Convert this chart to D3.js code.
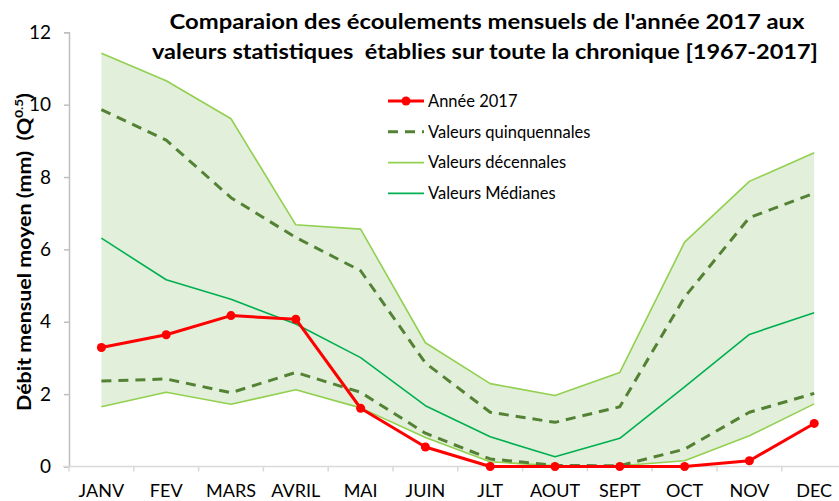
<!DOCTYPE html>
<html>
<head>
<meta charset="utf-8">
<script src="https://cdnjs.cloudflare.com/ajax/libs/d3/7.8.5/d3.min.js"></script>
<style>
  body { margin: 0; background: #fff; }
  svg { font-family: Lato, "Open Sans", sans-serif; }
</style>
</head>
<body>
<div id="chart"></div>
<script>
// months and series
var months = ['JANV', 'FEV', 'MARS', 'AVRIL', 'MAI', 'JUIN', 'JLT', 'AOUT', 'SEPT', 'OCT', 'NOV', 'DEC'];
var annee2017 = [3.29, 3.64, 4.17, 4.07, 1.61, 0.54, 0, 0, 0, 0, 0.16, 1.19];
var quinqHaut = [9.86, 9.02, 7.43, 6.33, 5.41, 2.86, 1.50, 1.22, 1.65, 4.68, 6.88, 7.55];
var quinqBas = [2.36, 2.42, 2.04, 2.60, 2.05, 0.92, 0.21, 0.03, 0.02, 0.48, 1.50, 2.02];
var decHaut = [11.42, 10.66, 9.61, 6.68, 6.56, 3.42, 2.29, 1.96, 2.60, 6.20, 7.88, 8.67];
var decBas = [1.65, 2.05, 1.72, 2.12, 1.62, 0.80, 0.13, 0.02, 0.02, 0.16, 0.85, 1.73];
var medianes = [6.31, 5.16, 4.62, 3.94, 3.01, 1.68, 0.82, 0.27, 0.78, 2.20, 3.65, 4.25];
var yTicks = [0, 2, 4, 6, 8, 10, 12];

var width = 839,
    height = 501;

var svg = d3.select("#chart").append("svg")
    .attr("width", width)
    .attr("height", height);

var x = d3.scaleBand()
    .domain(months)
    .range([69, 846.6]);

var y = d3.scaleLinear()
    .domain([0, 12])
    .range([466.5, 32.3]);

function cx(d, i) { return x(months[i]) + x.bandwidth() / 2; }

// axes
var yAxis = svg.append("g")
    .attr("transform", "translate(69,0)")
    .call(d3.axisLeft(y).tickValues(yTicks).tickSize(5).tickPadding(13));
yAxis.select(".domain").attr("stroke", "#bfbfbf").attr("stroke-width", 1.5);
yAxis.selectAll(".tick line").attr("stroke", "#bfbfbf").attr("stroke-width", 1.5);
yAxis.selectAll("text").attr("font-size", "19px").attr("fill", "#000")
    .style("font-family", "Lato, 'Open Sans', sans-serif");

var xAxis = svg.append("g")
    .attr("transform", "translate(0,466.5)")
    .call(d3.axisBottom(x).tickSize(0).tickPadding(18));
xAxis.select(".domain").remove();
xAxis.selectAll("text").attr("font-size", "18px").attr("fill", "#000")
    .style("font-family", "Lato, 'Open Sans', sans-serif");

svg.append("line")
    .attr("x1", 63).attr("x2", 846.6)
    .attr("y1", y(0)).attr("y2", y(0))
    .attr("stroke", "#d9d9d9").attr("stroke-width", 1.5);

svg.selectAll(".xtick")
    .data(d3.range(months.length + 1))
    .enter().append("line")
    .attr("class", "xtick")
    .attr("x1", function(d) { return 69 + d * x.step(); })
    .attr("x2", function(d) { return 69 + d * x.step(); })
    .attr("y1", y(0)).attr("y2", y(0) + 5)
    .attr("stroke", "#d9d9d9").attr("stroke-width", 1.5);

// shaded band between the decennial values
var area = d3.area()
    .x(cx)
    .y0(function(d, i) { return y(decBas[i]); })
    .y1(function(d) { return y(d); });

svg.append("path")
    .datum(decHaut)
    .attr("d", area)
    .attr("fill", "#e2efda");

var line = d3.line().x(cx).y(function(d) { return y(d); });

function drawLine(data, color, w, dash) {
  svg.append("path")
    .datum(data)
    .attr("d", line)
    .attr("fill", "none")
    .attr("stroke", color)
    .attr("stroke-width", w)
    .attr("stroke-dasharray", dash || null)
    .attr("stroke-linejoin", "round");
}

drawLine(decHaut, "#92d050", 1.6);
drawLine(decBas, "#92d050", 1.6);
drawLine(medianes, "#00b050", 1.6);
drawLine(quinqHaut, "#548235", 3, "10,7");
drawLine(quinqBas, "#548235", 3, "10,7");
drawLine(annee2017, "#ff0000", 3);

svg.selectAll(".pt")
    .data(annee2017)
    .enter().append("circle")
    .attr("class", "pt")
    .attr("cx", cx)
    .attr("cy", function(d) { return y(d); })
    .attr("r", 4.5)
    .attr("fill", "#ff0000");

// legend
var legendItems = [
  {label: "Année 2017", color: "#ff0000", w: 3, dash: null, dot: true},
  {label: "Valeurs quinquennales", color: "#548235", w: 3, dash: "10,7"},
  {label: "Valeurs décennales", color: "#92d050", w: 1.6, dash: null},
  {label: "Valeurs Médianes", color: "#00b050", w: 1.6, dash: null}
];

var lg = svg.selectAll(".lg")
    .data(legendItems)
    .enter().append("g")
    .attr("class", "lg")
    .attr("transform", function(d, i) { return "translate(388," + (101 + i * 30.8) + ")"; });

lg.append("line")
    .attr("x1", 0).attr("x2", 36)
    .attr("stroke", function(d) { return d.color; })
    .attr("stroke-width", function(d) { return d.w; })
    .attr("stroke-dasharray", function(d) { return d.dash; });

lg.filter(function(d) { return d.dot; }).append("circle")
    .attr("cx", 18).attr("r", 4.5).attr("fill", "#ff0000");

lg.append("text")
    .attr("x", 40).attr("dy", "0.35em")
    .attr("font-size", "16.5px")
    .text(function(d) { return d.label; });

// title
var title = svg.append("text")
    .attr("text-anchor", "middle")
    .attr("font-weight", "bold")
    .attr("font-size", "21px");
title.append("tspan").attr("x", 487).attr("y", 28.5)
    .attr("textLength", 635).attr("lengthAdjust", "spacingAndGlyphs")
    .text("Comparaion des écoulements mensuels de l'année 2017 aux");
title.append("tspan").attr("x", 485).attr("y", 59)
    .attr("textLength", 666).attr("lengthAdjust", "spacingAndGlyphs")
    .style("white-space", "pre")
    .text("valeurs statistiques  établies sur toute la chronique [1967-2017]");

// y axis label
var ylab = svg.append("text")
    .attr("transform", "translate(31,252) rotate(-90)")
    .attr("text-anchor", "middle")
    .attr("font-weight", "bold")
    .attr("font-size", "19px")
    .attr("textLength", 318).attr("lengthAdjust", "spacingAndGlyphs")
    .style("white-space", "pre");
ylab.append("tspan").text("Débit mensuel moyen (mm)  (Q");
ylab.append("tspan").attr("font-size", "12px").attr("dy", -8).text("0.5");
ylab.append("tspan").attr("dy", 8).text(")");
</script>
</body>
</html>
